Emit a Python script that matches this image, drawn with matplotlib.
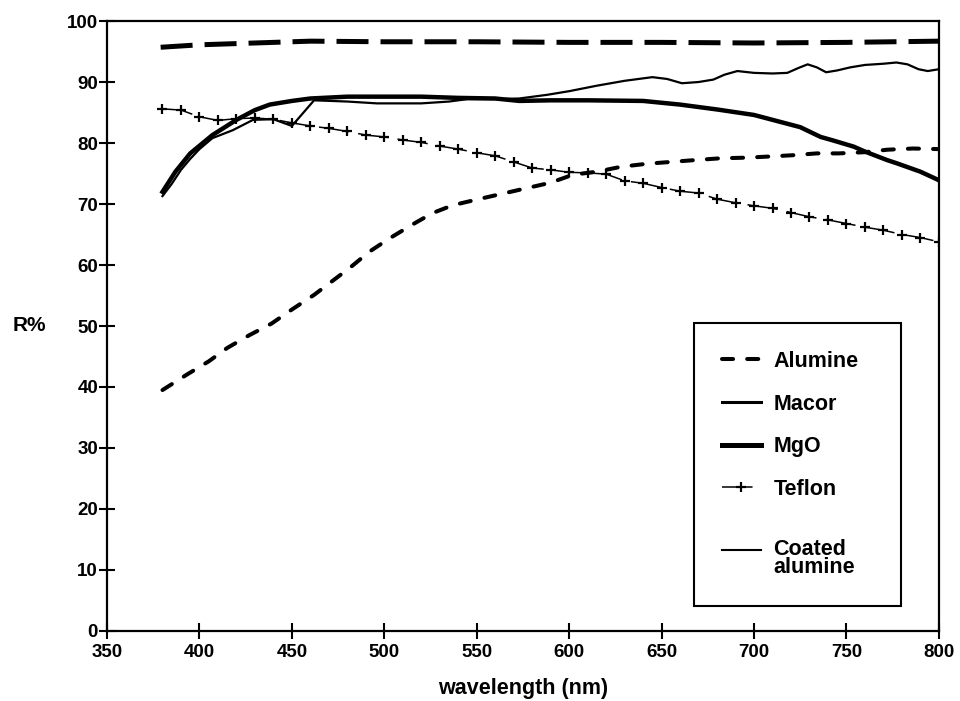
####### Reflectance of diffuser materials

import numpy as np
import matplotlib.pyplot as plt

plt.rcParams['font.family'] = ['Liberation Sans', 'DejaVu Sans']
plt.rcParams['font.weight'] = 'bold'

# Alumine
alumine_wl = [380, 393, 405, 415, 427, 439, 450, 462, 472, 482, 492, 503, 515, 526, 537, 551,
              564, 577, 590, 602, 615, 628, 642, 655, 668, 682, 696, 709, 721, 734, 746, 760,
              772, 786, 800]
alumine_r = [39.5, 42.0, 44.2, 46.4, 48.5, 50.4, 52.7, 55.1, 57.4, 59.7, 62.2, 64.4, 66.6, 68.5,
             69.8, 70.8, 71.7, 72.6, 73.5, 74.8, 75.3, 76.1, 76.6, 76.9, 77.2, 77.5, 77.6, 77.8,
             78.0, 78.3, 78.3, 78.5, 78.9, 79.1, 79.0]

# Macor
macor_wl = [380, 385, 390, 395, 400, 407, 418, 429, 440, 450, 456, 462, 480, 496, 520, 535, 545,
            560, 573, 588, 600, 615, 630, 645, 653, 661, 670, 678, 684, 691, 700, 710, 718, 724,
            729, 734, 739, 745, 752, 760, 770, 777, 783, 789, 794, 800]
macor_r = [71.3, 73.3, 75.6, 77.4, 79.0, 80.8, 82.1, 83.8, 83.9, 82.8, 84.9, 87.0, 86.8, 86.5,
           86.5, 86.8, 87.2, 87.2, 87.3, 87.9, 88.5, 89.4, 90.2, 90.8, 90.5, 89.8, 90.0, 90.4,
           91.2, 91.8, 91.5, 91.4, 91.5, 92.3, 92.9, 92.4, 91.6, 91.9, 92.4, 92.8, 93.0, 93.2,
           92.9, 92.1, 91.8, 92.1]

# MgO
mgo_wl = [380, 387, 395, 407, 420, 430, 438, 450, 460, 480, 500, 520, 540, 560, 573, 590, 610,
          640, 660, 680, 700, 710, 725, 736, 743, 754, 760, 772, 777, 790, 800]
mgo_r = [72.0, 75.3, 78.3, 81.3, 83.8, 85.4, 86.3, 86.9, 87.3, 87.6, 87.6, 87.6, 87.4, 87.3,
         86.9, 87.0, 87.0, 86.9, 86.3, 85.5, 84.6, 83.8, 82.6, 81.0, 80.4, 79.4, 78.6, 77.2,
         76.7, 75.3, 73.9]

# Teflon (one + every 10 nm)
teflon_wl = list(range(380, 801, 10))
teflon_r = [85.6, 85.4, 84.3, 83.7, 84.0, 84.1, 83.9, 83.3, 82.8, 82.4, 81.9, 81.3, 81.0, 80.5,
            80.1, 79.5, 79.0, 78.4, 77.9, 76.9, 75.9, 75.6, 75.2, 75.1, 74.9, 73.8, 73.4, 72.7,
            72.1, 71.8, 70.8, 70.2, 69.7, 69.3, 68.6, 67.9, 67.4, 66.8, 66.2, 65.7, 65.0, 64.5,
            63.8]

# Coated alumine
coated_wl = [379, 400, 430, 460, 500, 550, 600, 650, 700, 750, 800]
coated_r = [95.7, 96.1, 96.4, 96.7, 96.6, 96.6, 96.5, 96.5, 96.4, 96.5, 96.7]

fig = plt.figure(figsize=(9.6, 7.01), dpi=100)
ax = fig.add_axes([0.1115, 0.0999, 0.8665, 0.8701])

ax.plot(alumine_wl, alumine_r, color='black', lw=2.9, dashes=(2.75, 3.5),
        dash_capstyle='round', label='Alumine')
ax.plot(macor_wl, macor_r, color='black', lw=1.6, label='Macor')
ax.plot(mgo_wl, mgo_r, color='black', lw=3.2, label='MgO')
ax.plot(teflon_wl, teflon_r, color='black', lw=1.1, dashes=(20, 6), marker='+',
        markersize=7, markeredgewidth=1.6, label='Teflon')
# leading blank line: the printed key sits a bit lower for this entry
ax.plot(coated_wl, coated_r, color='black', lw=3.6, dashes=(6.4, 2.4),
        label='\nCoated\nalumine')

ax.set_xlim(350, 800)
ax.set_ylim(0, 100)
ax.set_xticks(np.arange(350, 801, 50))
ax.set_yticks(np.arange(0, 101, 10))
ax.tick_params(direction='inout', length=11, width=1.5, labelsize=13.5)
ax.tick_params(axis='x', pad=4)
ax.tick_params(axis='y', pad=1)
for s in ax.spines.values():
    s.set_linewidth(1.6)

ax.set_xlabel('wavelength (nm)', fontsize=15.5, fontweight='bold', labelpad=12)
fig.text(0.031, 0.536, 'R%', fontsize=15, fontweight='bold', ha='center', va='center')

leg = ax.legend(loc='upper left', bbox_to_anchor=(0.7055, 0.0459, 0.249, 0.459),
                mode='expand', fontsize=15.5, frameon=True, fancybox=False,
                edgecolor='black', framealpha=1, borderpad=1.3, labelspacing=1.0,
                handlelength=1.8, handletextpad=0.6, borderaxespad=0)
leg.get_frame().set_linewidth(1.5)
# legend keys drawn like the printed ones
hl = leg.get_lines()
hl[1].set_linewidth(2.2)
hl[2].set_linewidth(3.6)
hl[4].set_linestyle('-')
hl[4].set_linewidth(1.5)
leg.get_texts()[4].set_linespacing(0.8)

plt.savefig('out.png', dpi=100)
plt.close()
